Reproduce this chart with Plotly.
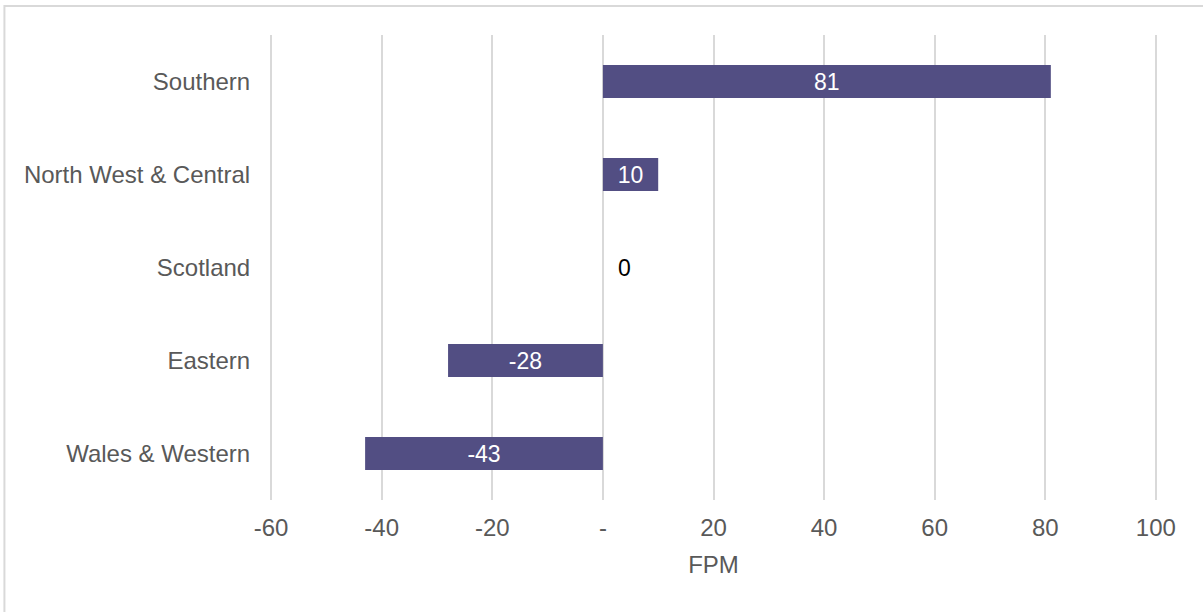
import plotly.graph_objects as go

# Regional FPM values
regions = ["Southern", "North West & Central", "Scotland", "Eastern", "Wales & Western"]
fpm = [81, 10, 0, -28, -43]

tick_vals = [-60, -40, -20, 0, 20, 40, 60, 80, 100]
tick_text = ["-60", "-40", "-20", "-", "20", "40", "60", "80", "100"]

bar_color = "#524E83"
grid_color = "#D9D9D9"
label_color = "#595959"
font_family = "Liberation Sans, Arial, sans-serif"
font_size = 24

# Nonzero values sit inside their bars; a zero bar gets its label beside the axis
bar_text = [str(v) if v != 0 else "" for v in fpm]

fig = go.Figure(
    go.Bar(
        y=regions,
        x=fpm,
        orientation="h",
        marker=dict(color=bar_color, line=dict(width=0)),
        text=bar_text,
        textposition="inside",
        insidetextanchor="middle",
        textfont=dict(color="white", size=font_size - 1, family=font_family),
        cliponaxis=False,
    )
)

for r, v in zip(regions, fpm):
    if v == 0:
        fig.add_annotation(
            x=v, y=r, text=str(v), showarrow=False,
            xanchor="left", xshift=13,
            font=dict(color="black", size=font_size - 1, family=font_family),
        )

# Light frame around the chart area
fig.add_shape(
    type="rect", xref="paper", yref="paper",
    x0=-0.2994, x1=1.2, y0=-0.4, y1=1.0624,
    line=dict(color=grid_color, width=2), fillcolor="rgba(0,0,0,0)", layer="below",
)

fig.update_layout(
    width=1203, height=612,
    margin=dict(l=270, r=46, t=35, b=112),
    paper_bgcolor="white", plot_bgcolor="white",
    bargap=0.645,
    showlegend=False,
    font=dict(family=font_family, color=label_color, size=font_size),
    xaxis=dict(
        range=[-60.2, 100.2],
        tickvals=tick_vals, ticktext=tick_text,
        showgrid=True, gridcolor=grid_color, gridwidth=2,
        zeroline=False, showline=False,
        ticks="outside", ticklen=6, tickcolor="rgba(0,0,0,0)",
        tickfont=dict(size=font_size, color=label_color),
        title=dict(text="FPM", font=dict(size=font_size, color=label_color), standoff=16),
    ),
    yaxis=dict(
        categoryorder="array", categoryarray=regions[::-1],
        showgrid=False, zeroline=False, showline=False,
        ticks="outside", ticklen=14, tickcolor="rgba(0,0,0,0)",
        tickfont=dict(size=font_size, color=label_color),
    ),
)

fig.write_html("out.html")
